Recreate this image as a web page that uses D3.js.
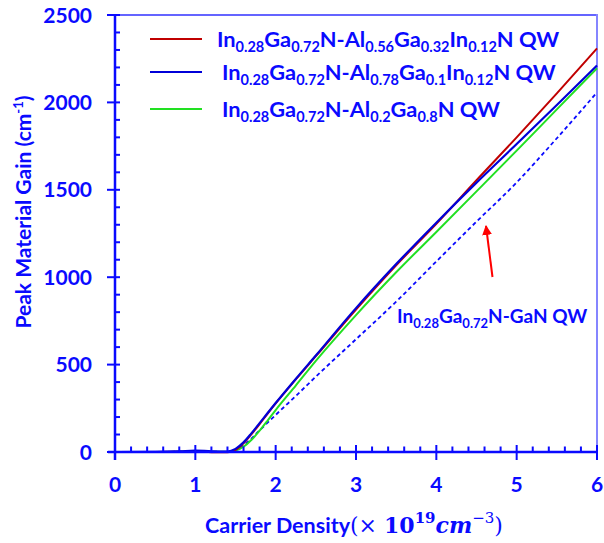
<!DOCTYPE html>
<html><head><meta charset="utf-8">
<script src="https://cdn.jsdelivr.net/npm/d3@7"></script>
<style>body{margin:0;background:#fff}svg{display:block}</style>
</head><body>
<svg id="c" width="604" height="543"></svg>
<script>
const carrierDensity = [0,0.5,0.8,1.0,1.2,1.4,1.5,1.6,1.7,1.8,1.9,2.0,2.25,2.5,3.0,3.5,4.0,4.5,5.0,5.5,6.0];
const gainAl056 = [0,0,1,3,-1,-2,12,50,103,160,220,278,415,548,815,1068,1305,1555,1800,2052,2309];
const gainAl078 = [0,1,4,8,4,3,18,55,108,165,223,280,418,552,823,1075,1312,1541,1762,1985,2211];
const gainAl02  = [0,0,2,5,2,1,8,30,70,122,180,240,380,521,783,1028,1259,1491,1724,1960,2195];
const gainGaN   = [0,0,2,5,2,1,10,38,78,124,168,212,320,431,645,860,1090,1318,1542,1795,2057];
const xTicks = [0,1,2,3,4,5,6];
const yTicks = [0,500,1000,1500,2000,2500];

const svg = d3.select("#c");
const FONT = "Lato, 'Open Sans', sans-serif";
const BLUE = "#0a0aff";
const x = d3.scaleLinear().domain([0,6]).range([115,597]);
const y = d3.scaleLinear().domain([0,2500]).range([452,15]);

// frame
svg.append("line").attr("x1",115).attr("x2",597).attr("y1",15).attr("y2",15).attr("stroke","#3030ff").attr("stroke-width",1.5);
svg.append("line").attr("x1",597).attr("x2",597).attr("y1",14).attr("y2",460).attr("stroke","#8585ff").attr("stroke-width",2);

// curves
const line = d3.line().x((d,i)=>x(carrierDensity[i])).y(d=>y(d)).curve(d3.curveMonotoneX);
const series = [
  {v: gainGaN, c: "#0a0aff", w: 1.8, dash: "4,3"},
  {v: gainAl02, c: "#22e022", w: 2},
  {v: gainAl056, c: "#c00000", w: 2},
  {v: gainAl078, c: "#0000d8", w: 2.2}
];
series.forEach(s => {
  svg.append("path").attr("d", line(s.v)).attr("fill","none")
    .attr("stroke", s.c).attr("stroke-width", s.w)
    .attr("stroke-dasharray", s.dash || null);
});

// axes
const gx = svg.append("g");
gx.append("line").attr("x1",108).attr("x2",597).attr("y1",452).attr("y2",452).attr("stroke",BLUE).attr("stroke-width",2.5);
d3.range(0,6.01,0.2).forEach(v => {
  const major = Math.abs(v - Math.round(v)) < 1e-6;
  gx.append("line").attr("x1",x(v)).attr("x2",x(v))
    .attr("y1", major ? 445 : 446.5).attr("y2", major ? 460 : 452)
    .attr("stroke",BLUE).attr("stroke-width",2);
});
gx.selectAll("text").data(xTicks).join("text")
  .attr("x", d=>x(d)).attr("y", 492).attr("text-anchor","middle")
  .attr("font-family",FONT).attr("font-weight","bold").attr("font-size",21).attr("fill",BLUE)
  .text(d=>d);

const gy = svg.append("g");
gy.append("line").attr("x1",115).attr("x2",115).attr("y1",15).attr("y2",460).attr("stroke",BLUE).attr("stroke-width",2.5);
d3.range(0,2501,100).forEach(v => {
  const major = v % 500 === 0;
  gy.append("line").attr("x1", major ? 107 : 115).attr("x2",120)
    .attr("y1",y(v)).attr("y2",y(v)).attr("stroke",BLUE).attr("stroke-width",2);
});
gy.selectAll("text").data(yTicks).join("text")
  .attr("x", 92).attr("y", d=>y(d)+7.5).attr("text-anchor","end")
  .attr("font-family",FONT).attr("font-weight","bold").attr("font-size",21).attr("fill",BLUE)
  .text(d=>d);

// axis titles
const yl = svg.append("text").attr("transform","translate(31,212) rotate(-90)")
  .attr("text-anchor","middle").attr("font-family",FONT).attr("font-weight","bold")
  .attr("font-size",21).attr("fill",BLUE);
yl.append("tspan").text("Peak Material Gain (cm");
yl.append("tspan").attr("font-size",13).attr("dy",-8).text("-1");
yl.append("tspan").attr("dy",8).text(")");

const xl = svg.append("text").attr("x",205).attr("y",533)
  .attr("font-family",FONT).attr("font-weight","bold").attr("font-size",21.5).attr("fill",BLUE);
xl.append("tspan").text("Carrier Density");
xl.append("tspan").attr("font-family","'DejaVu Serif', serif").attr("font-weight","normal").attr("font-size",22).text("(× ");
xl.append("tspan").attr("font-family","'DejaVu Serif', serif").attr("font-size",22).text("10");
xl.append("tspan").attr("font-family","'DejaVu Serif', serif").attr("font-size",15).attr("dy",-10).text("19");
xl.append("tspan").attr("font-family","'DejaVu Serif', serif").attr("font-style","italic").attr("font-size",22).attr("dy",10).text("cm");
xl.append("tspan").attr("font-family","'DejaVu Serif', serif").attr("font-weight","normal").attr("font-size",15).attr("dy",-10).text("−3");
xl.append("tspan").attr("font-family","'DejaVu Serif', serif").attr("font-weight","normal").attr("font-size",22).attr("dy",10).text(")");

// rich text helper: parts [text, isSub]
function rich(sel, parts, mainSize, subSize) {
  let sub = false;
  parts.forEach(([t, s]) => {
    const ts = sel.append("tspan").text(t).attr("font-size", s ? subSize : mainSize);
    if (s && !sub) ts.attr("dy", 5);
    if (!s && sub) ts.attr("dy", -5);
    sub = s;
  });
}

// legend
const legendLabels = [
  [["In",0],["0.28",1],["Ga",0],["0.72",1],["N-Al",0],["0.56",1],["Ga",0],["0.32",1],["In",0],["0.12",1],["N QW",0]],
  [["In",0],["0.28",1],["Ga",0],["0.72",1],["N-Al",0],["0.78",1],["Ga",0],["0.1",1],["In",0],["0.12",1],["N QW",0]],
  [["In",0],["0.28",1],["Ga",0],["0.72",1],["N-Al",0],["0.2",1],["Ga",0],["0.8",1],["N QW",0]]
];
const legendColors = ["#c00000","#0000d8","#22e022"];
const legendY = [39, 72, 109];
const legendTx = [217, 222, 222];
legendLabels.forEach((parts, i) => {
  svg.append("line").attr("x1",150).attr("x2",202).attr("y1",legendY[i]).attr("y2",legendY[i])
    .attr("stroke",legendColors[i]).attr("stroke-width",2);
  const t = svg.append("text").attr("x",legendTx[i]).attr("y",legendY[i]+8)
    .attr("font-family",FONT).attr("font-weight","bold").attr("fill",BLUE);
  rich(t, parts, 21.8, 14.5);
});

// annotation
const ann = svg.append("text").attr("x",397).attr("y",323)
  .attr("font-family",FONT).attr("font-weight","bold").attr("fill",BLUE);
rich(ann, [["In",0],["0.28",1],["Ga",0],["0.72",1],["N-GaN  QW",0]], 19, 13);

svg.append("defs").append("marker").attr("id","ah").attr("viewBox","0 0 10 10")
  .attr("refX",9).attr("refY",5).attr("markerWidth",5).attr("markerHeight",5).attr("orient","auto")
  .append("path").attr("d","M0,0 L10,5 L0,10 z").attr("fill","#ff0000");
svg.append("line").attr("x1",492.5).attr("y1",277).attr("x2",486).attr("y2",226)
  .attr("stroke","#ff0000").attr("stroke-width",2).attr("marker-end","url(#ah)");
</script>
</body></html>
